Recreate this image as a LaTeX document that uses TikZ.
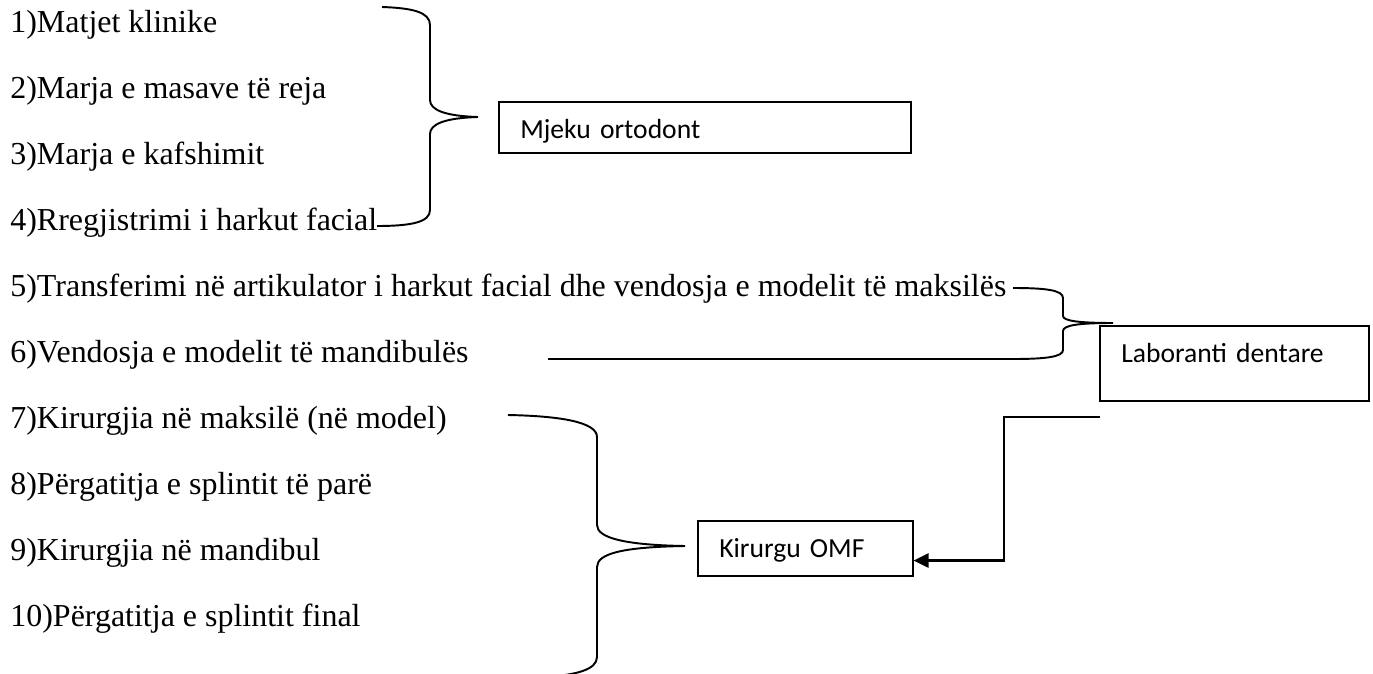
\documentclass[tikz,border=0pt]{standalone}
\usepackage{fontspec}
\setmainfont{Liberation Serif}
\newfontfamily\carlito{Carlito}
\usepackage{tikz}
\usetikzlibrary{arrows.meta}

\begin{document}
\begin{tikzpicture}[x=0.02cm,y=-0.02cm,
  item/.style={anchor=base west,inner sep=0pt,font=\fontsize{18.2}{22}\selectfont},
  rolebox/.style={draw,line width=0.9pt,anchor=north west,align=left,
    inner xsep=0.43cm,inner ysep=0pt,text height=0.73cm,
    font=\carlito\fontsize{15.7}{19}\selectfont},
  curly/.style={line width=1.1pt},
  arr/.style={-{Triangle[length=0.3cm,width=0.28cm]},line width=1.4pt}]
\useasboundingbox (0,0) rectangle (1373,673);
\node[item] (i1) at (10,32) {1)Matjet klinike};
\node[item] (i2) at (10,98) {2)Marja e masave të reja};
\node[item] (i3) at (10,164) {3)Marja e kafshimit};
\node[item] (i4) at (10,230) {4)Rregjistrimi i harkut facial};
\node[item] (i5) at (10,296) {5)Transferimi në artikulator i harkut facial dhe vendosja e modelit të maksilës};
\node[item] (i6) at (10,362) {6)Vendosja e modelit të mandibulës};
\node[item] (i7) at (10,428) {7)Kirurgjia në maksilë (në model)};
\node[item] (i8) at (10,494) {8)Përgatitja e splintit të parë};
\node[item] (i9) at (10,560) {9)Kirurgjia në mandibul};
\node[item] (i10) at (10,626) {10)Përgatitja e splintit final};

\node[rolebox,text width=7.38cm,text depth=0.30cm] (ort) at (498,101) {Mjeku ortodont};
\node[rolebox,text width=4.52cm,text depth=0.78cm] (lab) at (1099,325) {Laboranti dentare};
\node[rolebox,text width=3.44cm,text depth=0.38cm] (kir) at (697,520) {Kirurgu OMF};

\draw[curly] (382,7) .. controls (412,8) and (430,12) .. (430,25) -- (430,100)
  .. controls (430,110) and (445,116) .. (478,117)
  .. controls (445,118) and (430,124) .. (430,134) -- (430,210)
  .. controls (430,222) and (412,226) .. (377,226);
\draw[curly] (1013,288) .. controls (1045,288) and (1063,290) .. (1063,298) -- (1063,316)
  .. controls (1063,321) and (1080,323) .. (1113,323)
  .. controls (1080,323) and (1063,325) .. (1063,331) -- (1063,350)
  .. controls (1063,357) and (1045,359) .. (1013,359) -- (548,359);
\draw[curly] (508,415) .. controls (560,416) and (597,422) .. (597,437) -- (597,525)
  .. controls (597,538) and (625,545) .. (685,546)
  .. controls (625,547) and (597,553) .. (597,567) -- (597,657)
  .. controls (597,670) and (575,675) .. (545,677);

\coordinate (lo) at ([shift={(1,15)}]lab.south west);
\draw[arr] (lo) -- ++(-96,0) |- ([shift={(0,12)}]kir.east);
\end{tikzpicture}
\end{document}
